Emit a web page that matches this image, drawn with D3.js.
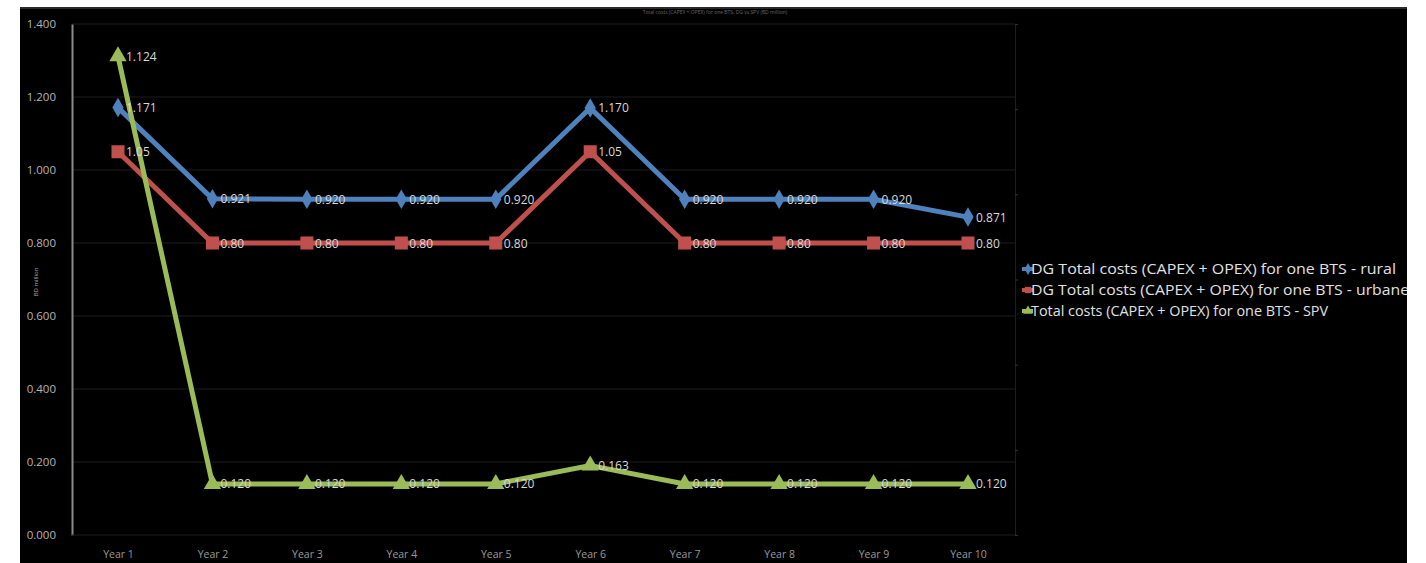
<!DOCTYPE html>
<html>
<head>
<meta charset="utf-8">
<script src="https://cdnjs.cloudflare.com/ajax/libs/d3/7.8.5/d3.min.js"></script>
<style>
  html, body { margin: 0; padding: 0; background: #ffffff; }
  svg { display: block; }
  text { font-family: "Open Sans", "DejaVu Sans", sans-serif; }
</style>
</head>
<body>
<svg id="chart" width="1426" height="563"></svg>
<script>
const categories = ["Year 1","Year 2","Year 3","Year 4","Year 5","Year 6","Year 7","Year 8","Year 9","Year 10"];
const ruralValues = [1.171, 0.921, 0.920, 0.920, 0.920, 1.170, 0.920, 0.920, 0.920, 0.871];
const ruralLabels = ["1.171","0.921","0.920","0.920","0.920","1.170","0.920","0.920","0.920","0.871"];
const urbanValues = [1.05, 0.80, 0.80, 0.80, 0.80, 1.05, 0.80, 0.80, 0.80, 0.80];
const urbanLabels = ["1.05","0.80","0.80","0.80","0.80","1.05","0.80","0.80","0.80","0.80"];
const spvValues = [1.124, 0.120, 0.120, 0.120, 0.120, 0.163, 0.120, 0.120, 0.120, 0.120];
const spvLabels = ["1.124","0.120","0.120","0.120","0.120","0.163","0.120","0.120","0.120","0.120"];
const yTicks = [0, 0.2, 0.4, 0.6, 0.8, 1.0, 1.2, 1.4];
const y2Ticks = [0, 0.2, 0.4, 0.6, 0.8, 1.0, 1.2];
const seriesNames = [
  "DG Total costs (CAPEX + OPEX) for one BTS - rural",
  "DG Total costs (CAPEX + OPEX) for one BTS - urbane",
  "Total costs (CAPEX + OPEX) for one BTS - SPV"
];
const titleText = "Total costs (CAPEX + OPEX) for one BTS, DG vs SPV (BD million)";
const yTitle = "BD million";

const svg = d3.select("#chart");

// black chart area
svg.append("rect").attr("x", 20).attr("y", 7).attr("width", 1387).attr("height", 556).attr("fill", "#000");
svg.append("rect").attr("x", 20).attr("y", 7).attr("width", 1387).attr("height", 2).attr("fill", "#2a2a2a");

const plot = { left: 72, right: 1015, top: 24, bottom: 535 };

const x = d3.scalePoint().domain(categories).range([118, 968]);
const y = d3.scaleLinear().domain([0, 1.4]).range([plot.bottom, plot.top]);
const y2 = d3.scaleLinear().domain([0, 1.2]).range([plot.bottom, plot.top]);

// title
svg.append("text").attr("x", 715).attr("y", 14).attr("text-anchor", "middle")
  .attr("font-size", 5).attr("fill", "#666").text(titleText);

// gridlines
svg.append("g").selectAll("line").data(yTicks.slice(1)).join("line")
  .attr("x1", plot.left).attr("x2", plot.right)
  .attr("y1", d => y(d)).attr("y2", d => y(d))
  .attr("stroke", "#1c1c1c").attr("stroke-width", 1);

// left axis
const yAxis = d3.axisLeft(y).tickValues(yTicks).tickFormat(d3.format(".3f")).tickSize(0).tickPadding(16);
const gy = svg.append("g").attr("transform", `translate(${plot.left},0)`).call(yAxis);
gy.select(".domain").attr("stroke", "#8a8a8a").attr("stroke-width", 2);
gy.selectAll("text").attr("fill", "#b5b5b5").attr("font-size", 11.5);

// right axis (secondary, no labels)
const y2Axis = d3.axisRight(y2).tickValues(y2Ticks).tickFormat("").tickSize(3);
const gy2 = svg.append("g").attr("transform", `translate(${plot.right},0)`).call(y2Axis);
gy2.select(".domain").attr("stroke", "#1e1e1e").attr("stroke-width", 1);
gy2.selectAll(".tick line").attr("stroke", "#333");

// x axis
const xAxis = d3.axisBottom(x).tickSize(0).tickPadding(16);
const gx = svg.append("g").attr("transform", `translate(0,${plot.bottom})`).call(xAxis);
gx.select(".domain").attr("stroke", "#1c1c1c").attr("d", `M${plot.left},0H${plot.right}`);
gx.selectAll("text").attr("fill", "#9a9a9a").attr("font-size", 10.5);

// y title
svg.append("text").attr("transform", "translate(38,282) rotate(-90)")
  .attr("text-anchor", "middle").attr("font-size", 6).attr("fill", "#aaa").text(yTitle);

const series = [
  { values: ruralValues, labels: ruralLabels, color: "#4f81bd", scale: y, symbol: d3.symbolDiamond, size: 110 },
  { values: urbanValues, labels: urbanLabels, color: "#c0504d", scale: y, symbol: d3.symbolSquare, size: 170 },
  { values: spvValues, labels: spvLabels, color: "#9bbb59", scale: y2, symbol: d3.symbolTriangle, size: 130 }
];

series.forEach(s => {
  const pts = s.values.map((v, i) => [x(categories[i]), s.scale(v)]);
  svg.append("path").datum(pts)
    .attr("d", d3.line())
    .attr("fill", "none").attr("stroke", s.color).attr("stroke-width", 5)
    .attr("stroke-linejoin", "miter");
  svg.append("g").selectAll("path").data(pts).join("path")
    .attr("transform", d => `translate(${d[0]},${d[1]})`)
    .attr("d", d3.symbol().type(s.symbol).size(s.size))
    .attr("fill", s.color);
});

series.forEach(s => {
  svg.append("g").selectAll("text").data(s.values).join("text")
    .attr("x", (d, i) => x(categories[i]) + 8)
    .attr("y", d => s.scale(d) + 4.5)
    .attr("font-size", 12).attr("fill", "#d8d8d8")
    .text((d, i) => s.labels[i]);
});

// legend
const legend = svg.append("g");
const legendY = [269, 290, 311];
const legendWidths = [365, 378, 297];
series.forEach((s, i) => {
  legend.append("line").attr("x1", 1022).attr("x2", 1033)
    .attr("y1", legendY[i]).attr("y2", legendY[i])
    .attr("stroke", s.color).attr("stroke-width", 4);
  legend.append("path").attr("transform", `translate(1028,${legendY[i]})`)
    .attr("d", d3.symbol().type(s.symbol).size(40)).attr("fill", s.color);
  legend.append("text").attr("x", 1031).attr("y", legendY[i] + 5)
    .attr("font-size", 14).attr("fill", "#e0e0e0")
    .attr("textLength", legendWidths[i]).attr("lengthAdjust", "spacingAndGlyphs")
    .text(seriesNames[i]);
});

// white margin on right clipping the legend text
svg.append("rect").attr("x", 1407).attr("y", 0).attr("width", 19).attr("height", 563).attr("fill", "#fff");
</script>
</body>
</html>
